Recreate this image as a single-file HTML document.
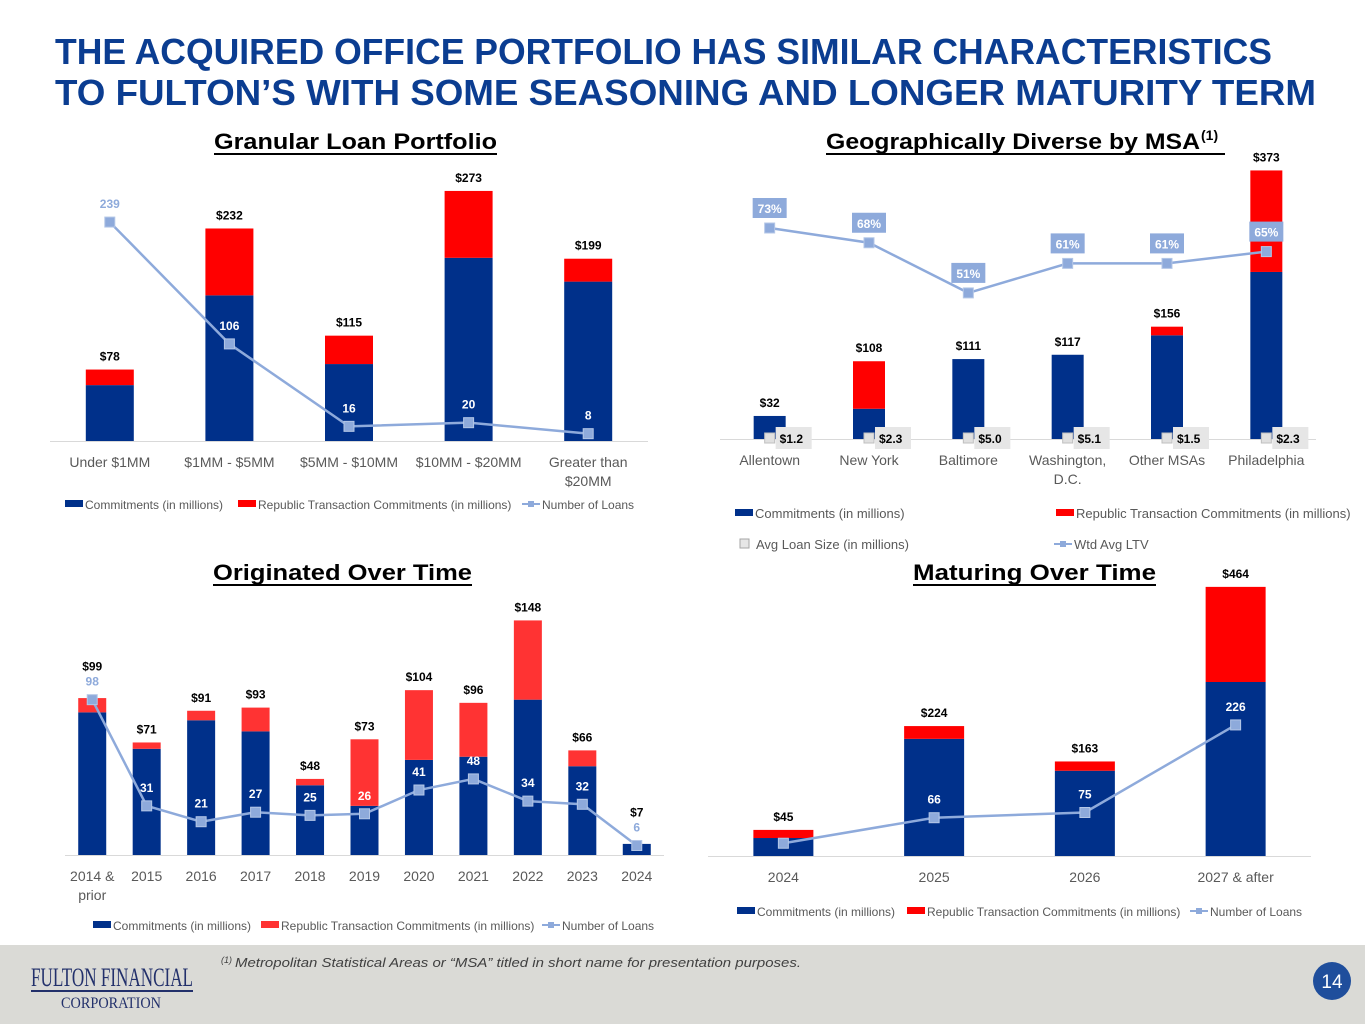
<!DOCTYPE html>
<html><head><meta charset="utf-8"><style>
html,body{margin:0;padding:0;background:#fff;}
svg{display:block;font-family:"Liberation Sans",sans-serif;}
</style></head><body>
<svg id="s" width="1365" height="1024" viewBox="0 0 1365 1024" xmlns="http://www.w3.org/2000/svg">
<rect width="1365" height="1024" fill="#fff"/>
<g fill="#0b3d91" font-weight="bold" font-size="36">
<text x="55" y="64" textLength="1217" lengthAdjust="spacingAndGlyphs">THE ACQUIRED OFFICE PORTFOLIO HAS SIMILAR CHARACTERISTICS</text>
<text x="55" y="105" textLength="1261" lengthAdjust="spacingAndGlyphs">TO FULTON’S WITH SOME SEASONING AND LONGER MATURITY TERM</text>
</g>
<g font-weight="bold" font-size="22" fill="#000">
<text x="214" y="149" textLength="283" lengthAdjust="spacingAndGlyphs">Granular Loan Portfolio</text>
<rect x="214" y="153" width="283" height="2" fill="#000"/>
<text x="826" y="149" textLength="374" lengthAdjust="spacingAndGlyphs">Geographically Diverse by MSA</text>
<text x="1201" y="140" font-size="14">(1)</text>
<rect x="826" y="153" width="399" height="2" fill="#000"/>
<text x="213" y="580" textLength="259" lengthAdjust="spacingAndGlyphs">Originated Over Time</text>
<rect x="213" y="584" width="259" height="2" fill="#000"/>
<text x="913" y="580" textLength="243" lengthAdjust="spacingAndGlyphs">Maturing Over Time</text>
<rect x="913" y="584" width="243" height="2" fill="#000"/>
</g>
<g id="charts"></g>
<rect x="0" y="945" width="1365" height="79" fill="#dadad6"/>
<g font-family="'Liberation Serif',serif" fill="#22306b">
<text x="31" y="986" font-size="26" textLength="162" lengthAdjust="spacingAndGlyphs">FULTON FINANCIAL</text>
<rect x="31" y="990" width="162" height="2"/>
<text x="61" y="1008" font-size="16" textLength="100" lengthAdjust="spacingAndGlyphs">CORPORATION</text>
</g>
<text x="221" y="963" font-size="9" font-style="italic" fill="#404040">(1)</text>
<text x="235" y="967" font-size="13" font-style="italic" fill="#404040" textLength="566" lengthAdjust="spacingAndGlyphs">Metropolitan Statistical Areas or “MSA” titled in short name for presentation purposes.</text>
<circle cx="1332" cy="981" r="19" fill="#1f4e9c"/>
<text x="1332" y="988" font-size="19" fill="#fff" text-anchor="middle">14</text>
</svg>
<script>
// Chart 1: Granular Loan Portfolio
const c1Cats = ["Under $1MM","$1MM - $5MM","$5MM - $10MM","$10MM - $20MM","Greater than|$20MM"];
const c1Commit = [61,159,84,200,174];
const c1Republic = [17,73,31,73,25];
const c1Totals = ["$78","$232","$115","$273","$199"];
const c1Loans = [239,106,16,20,8];
// Chart 2: Geographic
const c2Cats = ["Allentown","New York","Baltimore","Washington,|D.C.","Other MSAs","Philadelphia"];
const c2Commit = [32,42,111,117,144,232];
const c2Republic = [0,66,0,0,12,141];
const c2Totals = ["$32","$108","$111","$117","$156","$373"];
const c2AvgSize = ["$1.2","$2.3","$5.0","$5.1","$1.5","$2.3"];
const c2LTV = [73,68,51,61,61,65];
// Chart 3: Originated
const c3Cats = ["2014 &|prior","2015","2016","2017","2018","2019","2020","2021","2022","2023","2024"];
const c3Commit = [90,67,85,78,44,31,60,62,98,56,7];
const c3Republic = [9,4,6,15,4,42,44,34,50,10,0];
const c3Totals = ["$99","$71","$91","$93","$48","$73","$104","$96","$148","$66","$7"];
const c3Loans = [98,31,21,27,25,26,41,48,34,32,6];
// Chart 4: Maturing
const c4Cats = ["2024","2025","2026","2027 & after"];
const c4Commit = [31,202,147,300];
const c4Republic = [14,22,16,164];
const c4Totals = ["$45","$224","$163","$464"];
const c4Loans = [22,66,75,226];

const NS="http://www.w3.org/2000/svg";
const root=document.getElementById('charts');
function mk(tag,attrs,parent,text){const e=document.createElementNS(NS,tag);for(const k in attrs)e.setAttribute(k,attrs[k]);if(text!==undefined)e.textContent=text;(parent||root).appendChild(e);return e;}
const BLUE="#00308a",RED="#ff0000",LINE="#8eaadb",GRAY="#595959";

function chart(o){
  const g=mk('g',{});
  
  
  const n=o.cats.length;
  const xs=i=>o.x0+(i+0.5)*(o.x1-o.x0)/n;
  const ys=v=>o.base-v*o.k;
  const yl=o.lineScale||ys;
  const light=o.lightIdx||[];
  mk('line',{x1:o.x0,x2:o.x1,y1:o.base+0.5,y2:o.base+0.5,stroke:"#d9d9d9","stroke-width":1},g);
  for(let i=0;i<n;i++){
    const cx=xs(i),b=o.commit[i],r=o.republic[i];
    const rb=mk('rect',{x:cx-o.bw/2,y:ys(b),width:o.bw,height:b*o.k,fill:BLUE},g);
    
    
    if(r>0){const rr=mk('rect',{x:cx-o.bw/2,y:ys(b+r),width:o.bw,height:r*o.k,fill:o.red||RED},g);
      
      }
    let ty=ys(b+r)-9;
    if(o.line && light.includes(i) && !o.boxLabel && i>0) ty=Math.min(ty,yl(o.line[i])-29);
    if(o.line && light.includes(i) && !o.boxLabel && i===0 && o.stackLight) ty=Math.min(ty,yl(o.line[i])-29);
    const tl=mk('text',{x:cx,y:ty,"font-size":12,"font-weight":"bold","text-anchor":"middle",fill:"#000"},g,o.totals[i]);
    
    
    const parts=o.cats[i].split('|');
    parts.forEach((p,j)=>{const t=mk('text',{x:cx,y:o.base+26+j*19,"font-size":14,"text-anchor":"middle",fill:GRAY},g,p);
      
      });
  }
  if(o.line){
    const pts=o.line.map((v,i)=>xs(i)+','+yl(v)).join(' ');
    const pl=mk('polyline',{points:pts,fill:"none",stroke:LINE,"stroke-width":2.5},g);
    
    
    o.line.forEach((v,i)=>{
      const m=mk('rect',{x:xs(i)-5,y:yl(v)-5,width:10,height:10,fill:LINE,stroke:"#b4c7e7","stroke-width":1},g);
      
      
      const cx=xs(i),cy=yl(v)-14;
      if(o.boxLabel){
        mk('rect',{x:cx-17,y:cy-16,width:34,height:20,fill:LINE},g);
        const t=mk('text',{x:cx,y:cy-1,"font-size":12,"font-weight":"bold","text-anchor":"middle",fill:"#fff"},g,v+o.suffix);
        
        
      } else {
        const lt=light.includes(i);
        const t=mk('text',{x:cx,y:cy,"font-size":12,"font-weight":"bold","text-anchor":"middle",fill:lt?LINE:"#fff"},g,v);
        
        
      }
    });
  }
  if(o.avg){
    o.avg.forEach((v,i)=>{const cx=xs(i);
      const sq=mk('rect',{x:cx-5,y:o.base-6,width:10,height:10,fill:"#e0e0e0",stroke:"#bfbfbf"},g);
      
      
      mk('rect',{x:cx+6,y:o.base-12,width:36,height:22,fill:"#e6e6e6"},g);
      const t=mk('text',{x:cx+10,y:o.base+4,"font-size":12,"font-weight":"bold",fill:"#000"},g,v);
      
      });
  }
  return g;
}
function legend(items,y){
  items.forEach(it=>{
    const g=mk('g',{});
    
    
    if(it.t==='box')mk('rect',{x:it.x,y:y-5,width:18,height:7,fill:it.c},g);
    else if(it.t==='sq')mk('rect',{x:it.x+3,y:y-6,width:9,height:9,fill:"#e6e6e6",stroke:"#a6a6a6"},g);
    else {mk('line',{x1:it.x,x2:it.x+18,y1:y-1,y2:y-1,stroke:LINE,"stroke-width":2},g);mk('rect',{x:it.x+6,y:y-4,width:6,height:6,fill:LINE},g);}
    mk('text',{x:it.x+(it.t==='sq'?19:20),y:y+4,"font-size":it.fs||12,fill:GRAY},g,it.s);
  });
}
chart({name:'granular-loan-chart',cats:c1Cats,commit:c1Commit,republic:c1Republic,totals:c1Totals,line:c1Loans,x0:50,x1:648,base:441,k:0.916,bw:48,lightIdx:[0]});
legend([{t:'box',x:65,c:BLUE,s:'Commitments (in millions)'},{t:'box',x:238,c:RED,s:'Republic Transaction Commitments (in millions)'},{t:'line',x:522,s:'Number of Loans'}],505);

chart({name:'geographic-msa-chart',cats:c2Cats,commit:c2Commit,republic:c2Republic,totals:c2Totals,line:c2LTV,lineScale:v=>228-(v-73)*2.95,boxLabel:true,suffix:'%',avg:c2AvgSize,x0:720,x1:1316,base:439,k:0.72,bw:32});
legend([{t:'box',x:735,c:BLUE,s:'Commitments (in millions)',fs:13},{t:'box',x:1056,c:RED,s:'Republic Transaction Commitments (in millions)',fs:13}],514);
legend([{t:'sq',x:737,s:'Avg Loan Size (in millions)',fs:13},{t:'line',x:1054,s:'Wtd Avg LTV',fs:13}],545);

chart({name:'originated-over-time-chart',cats:c3Cats,commit:c3Commit,republic:c3Republic,totals:c3Totals,line:c3Loans,x0:65,x1:664,base:855,k:1.585,bw:28,red:"#ff3333",lightIdx:[0,10],stackLight:true});
legend([{t:'box',x:93,c:BLUE,s:'Commitments (in millions)'},{t:'box',x:261,c:"#ff3333",s:'Republic Transaction Commitments (in millions)'},{t:'line',x:542,s:'Number of Loans'}],926);

chart({name:'maturing-over-time-chart',cats:c4Cats,commit:c4Commit,republic:c4Republic,totals:c4Totals,line:c4Loans,x0:708,x1:1311,base:856,k:0.58,bw:60});
legend([{t:'box',x:737,c:BLUE,s:'Commitments (in millions)'},{t:'box',x:907,c:RED,s:'Republic Transaction Commitments (in millions)'},{t:'line',x:1190,s:'Number of Loans'}],912);
</script>
</body></html>
